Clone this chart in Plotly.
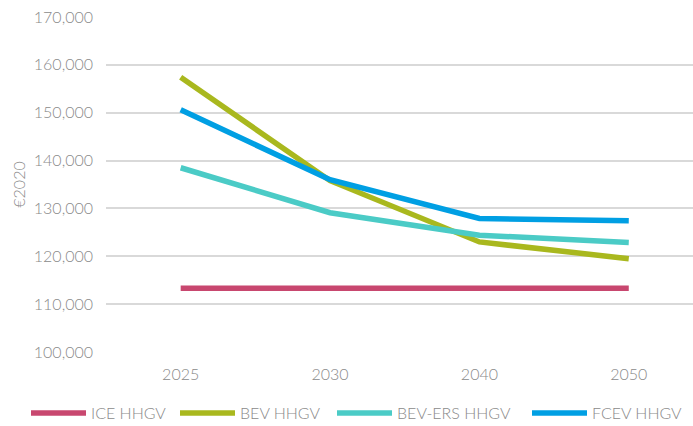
import plotly.graph_objects as go

# Total cost of ownership per vehicle type, in 2020 euros
years = ["2025", "2030", "2040", "2050"]
ice_hhgv = [113300, 113300, 113300, 113300]
bev_hhgv = [157400, 135800, 123000, 119500]
bev_ers_hhgv = [138500, 129100, 124400, 122900]
fcev_hhgv = [150600, 136000, 127900, 127400]

series = [
    ("ICE HHGV", ice_hhgv, "#C8476F"),
    ("BEV HHGV", bev_hhgv, "#A9B81E"),
    ("BEV-ERS HHGV", bev_ers_hhgv, "#4BCBC6"),
    ("FCEV HHGV", fcev_hhgv, "#009FE3"),
]
# left edge (px) of each legend entry along the bottom row
legend_left_px = [26, 175, 332, 527]

W, H = 693, 426
text_font = dict(family="Lato", size=16, color="#8a8a8a", weight=300)
legend_font = dict(family="Lato", size=16, color="#8a8a8a", weight=300)

fig = go.Figure()
legends = {}
for i, (name, values, color) in enumerate(series):
    key = "legend" if i == 0 else f"legend{i + 1}"
    fig.add_trace(go.Scatter(
        x=list(range(len(years))), y=values, name=name, mode="lines",
        line=dict(color=color, width=5.5), legend=key,
    ))
    legends[key] = dict(
        orientation="h", xref="container", yref="container",
        x=legend_left_px[i] / W, xanchor="left",
        y=(H - 413) / H, yanchor="middle",
        font=legend_font, itemwidth=55, bgcolor="rgba(0,0,0,0)",
    )

fig.update_layout(
    width=W, height=H,
    margin=dict(l=106, r=0, t=17, b=74),
    paper_bgcolor="white", plot_bgcolor="white",
    font=text_font,
    showlegend=True,
    **legends,
    xaxis=dict(
        range=[-0.5, 3.43], tickmode="array",
        tickvals=list(range(len(years))), ticktext=years,
        showgrid=False, zeroline=False, showline=False,
        ticks="", ticklabelstandoff=11, tickfont=text_font,
    ),
    yaxis=dict(
        range=[100000, 170000], dtick=10000, tickformat=",d",
        showgrid=True, gridcolor="#d9d9d9", gridwidth=1.5,
        zeroline=False, showline=False, ticks="",
        ticklabelstandoff=12, tickfont=text_font,
        title=dict(text="€2020", font=text_font, standoff=4),
    ),
)

fig.write_html("out.html")
